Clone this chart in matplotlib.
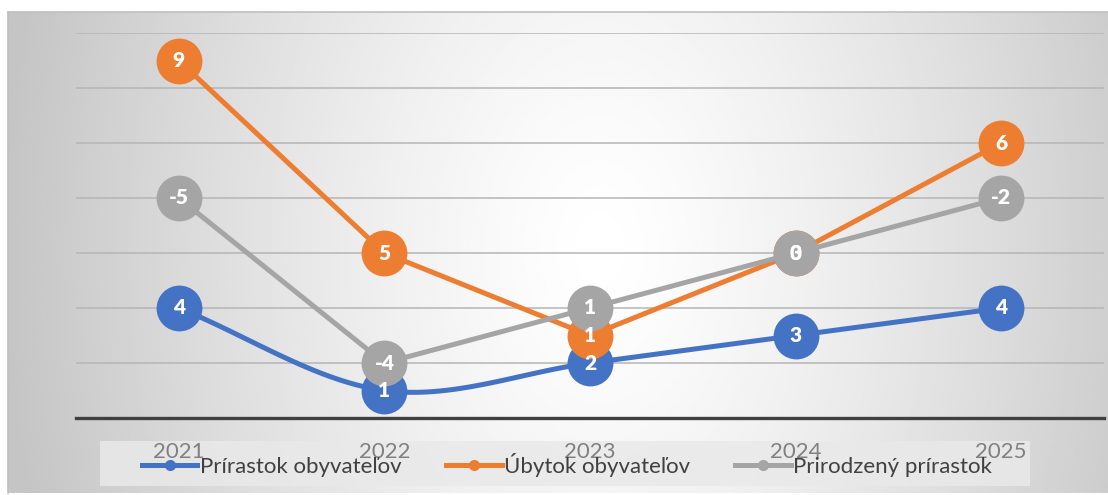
import numpy as np
import matplotlib.pyplot as plt
from matplotlib.lines import Line2D
from matplotlib.patches import Rectangle

# Údaje (hodnoty zo štítkov)
roky = ['2021', '2022', '2023', '2024', '2025']
prirastok = [4, 1, 2, 3, 4]
ubytok = [9, 5, 1, 3, 6]
prirodzeny = [-5, -4, 1, 0, -2]

nazvy = ['Prírastok obyvateľov', 'Úbytok obyvateľov', 'Prirodzený prírastok']
farby = ['#4472C4', '#ED7D31', '#A5A5A5']

plt.rcParams['font.family'] = ['Lato', 'DejaVu Sans']

W, H = 1108, 495
fig = plt.figure(figsize=(W / 100, H / 100), dpi=100, facecolor='white')


def catmull_rom(xs, ys, n=30):
    # vyhladená čiara (ako "smoothed line" v Exceli)
    xs = np.asarray(xs, float)
    ys = np.asarray(ys, float)
    px = np.concatenate([[2 * xs[0] - xs[1]], xs, [2 * xs[-1] - xs[-2]]])
    py = np.concatenate([[2 * ys[0] - ys[1]], ys, [2 * ys[-1] - ys[-2]]])
    ox, oy = [], []
    t = np.linspace(0, 1, n)
    for i in range(1, len(px) - 2):
        for p, o in ((px, ox), (py, oy)):
            p0, p1, p2, p3 = p[i - 1], p[i], p[i + 1], p[i + 2]
            o.extend(0.5 * (2 * p1 + (-p0 + p2) * t + (2 * p0 - 5 * p1 + 4 * p2 - p3) * t ** 2
                            + (-p0 + 3 * p1 - 3 * p2 + p3) * t ** 3))
    return np.array(ox), np.array(oy)


# pozadie s radiálnym prechodom
bg = fig.add_axes([8 / W, 2 / H, 1 - 8 / W, (493 - 12) / H], zorder=-3)
gx, gy = np.meshgrid(np.linspace(8, W, 400), np.linspace(12, 493, 200))
t = np.sqrt(((gx - 600) / 600) ** 2 + ((gy - 250) / 900) ** 2)
shade = 1 - 0.23 * np.clip(t, 0, 1) ** 1.3
bg.imshow(shade, cmap='gray', vmin=0, vmax=1, aspect='auto', extent=[0, 1, 0, 1], origin='upper')
bg.set_xticks([])
bg.set_yticks([])
for s in ['right', 'bottom']:
    bg.spines[s].set_visible(False)
for s in ['top', 'left']:
    bg.spines[s].set_color('#bfbfbf')
    bg.spines[s].set_linewidth(1.2)

# box legendy
fig.patches.append(Rectangle((100 / W, 1 - 486 / H), 930 / W, 45 / H, transform=fig.transFigure,
                             facecolor='#e9e9e9', edgecolor='none', alpha=0.85, zorder=-2))

ax = fig.add_axes([76 / W, (H - 418) / H, 1028 / W, 385 / H], zorder=0)
ax.set_facecolor('none')

x = np.arange(len(roky))
stacked = np.cumsum(np.array([prirastok, ubytok, prirodzeny]), axis=0)
hodnoty = [prirastok, ubytok, prirodzeny]

for i, (ys, c) in enumerate(zip(stacked, farby)):
    if i == 0:
        sx, sy = catmull_rom(x, ys)
        ax.plot(sx, sy, color=c, lw=3.6, solid_capstyle='round', zorder=2 + i, clip_on=False)
    else:
        ax.plot(x, ys, color=c, lw=3.6, zorder=2 + i, clip_on=False)
    ax.plot(x, ys, 'o', color=c, ms=33, mew=0, zorder=2 + i, clip_on=False)

for ys, vals in zip(stacked, hodnoty):
    for xi, yi, v in zip(x, ys, vals):
        ax.text(xi, yi, str(v), ha='center', va='center', color='white',
                fontsize=15, fontweight='heavy', zorder=10)

ax.set_xlim(-0.5, len(roky) - 0.5)
ax.set_ylim(0, 14)
ax.set_yticks(np.arange(2, 15, 2))
ax.set_yticklabels([])
ax.tick_params(axis='y', length=0)
ax.yaxis.grid(True, color='#b5b5b5', lw=1.1)
ax.set_axisbelow(True)
ax.set_xticks(x)
ax.set_xticklabels(roky, color='#808080', fontsize=16)
ax.tick_params(axis='x', length=0, pad=17)
for s in ['top', 'right', 'left']:
    ax.spines[s].set_visible(False)
ax.spines['bottom'].set_color('#404040')
ax.spines['bottom'].set_linewidth(2.4)

handles = [Line2D([], [], color=c, lw=3.6, marker='o', ms=8, mew=0) for c in farby]
fig.legend(handles, nazvy, loc='center', bbox_to_anchor=(567 / W, 1 - 465 / H), ncol=3,
           frameon=False, fontsize=16, handlelength=2.5, handletextpad=0.12, columnspacing=2.0,
           labelcolor='#404040')

fig.savefig('out.png', dpi=100, facecolor='white')
